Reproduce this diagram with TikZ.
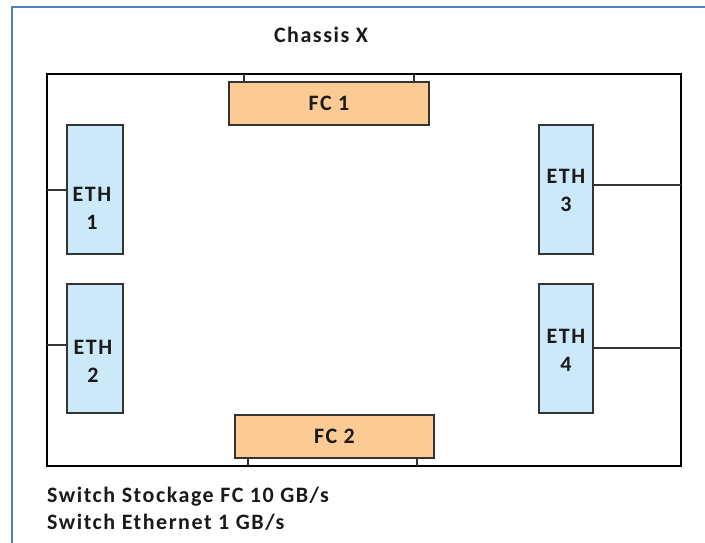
\documentclass[tikz,border=0pt]{standalone}
\usepackage{fontspec}
\setmainfont{Carlito}
\newfontfamily\diagfont[LetterSpace=7]{Carlito}
\definecolor{framebl}{HTML}{4F81BD}
\definecolor{fcfill}{HTML}{FCCB94}
\definecolor{ethfill}{HTML}{CCE9FA}
\definecolor{boxline}{HTML}{333333}
\definecolor{ink}{HTML}{1A1A1A}
\tikzset{
  every node/.style={text=ink},
  chassisbox/.style={draw=black, line width=2.4pt, rectangle, inner sep=0pt, outer sep=0pt},
  fcbox/.style={draw=boxline, fill=fcfill, line width=1.1pt, rectangle, inner sep=0pt, outer sep=0pt,
    minimum width=200pt, minimum height=43pt, font=\diagfont\bfseries\fontsize{22}{24}\selectfont},
  ethbox/.style={draw=boxline, fill=ethfill, line width=1.1pt, rectangle, inner sep=0pt, outer sep=0pt,
    minimum width=56pt, minimum height=129pt},
  ethlabel/.style={align=center, inner sep=0pt, font=\diagfont\bfseries\fontsize{22}{28}\selectfont},
  link/.style={draw=boxline, line width=1.1pt},
  caption/.style={inner sep=0pt, font=\diagfont\bfseries\fontsize{22}{25}\selectfont}
}
\begin{document}
\begin{tikzpicture}[x=1pt,y=-1pt]
\useasboundingbox (0,0) rectangle (705,543);
\fill[white] (0,0) rectangle (705,543);
% outer frame, open on the right and bottom
\draw[framebl, line width=1.6pt] (12,543) -- (12,7) -- (705,7);

% chassis outline
\node[chassisbox, minimum width=634pt, minimum height=392pt] (chassis) at (364,270) {};
\node[caption] (title) at (321,35) {Chassis X};

% FC switches
\node[fcbox] (fc1) at (329,103.5) {FC 1};
\node[fcbox, minimum width=199pt] (fc2) at (334.5,436.5) {FC 2};

% Ethernet switches
\node[ethbox] (eth1) at (95,189.5) {};
\node[ethbox] (eth2) at (95,348.5) {};
\node[ethbox, minimum width=54pt] (eth3) at (566,189.5) {};
\node[ethbox, minimum width=54pt] (eth4) at (566,348.5) {};
\node[ethlabel] (l1) at (92,208) {ETH\\1};
\node[ethlabel] (l2) at (93,361) {ETH\\2};
\node[ethlabel] (l3) at (566,190) {ETH\\3};
\node[ethlabel] (l4) at (566,350) {ETH\\4};

% attachment points
\coordinate (c1) at (0,190);
\coordinate (c2) at (0,345);
\coordinate (c3) at (0,185);
\coordinate (c4) at (0,348);
\coordinate (a1) at (244,0);
\coordinate (b1) at (414,0);
\coordinate (a2) at (248,0);
\coordinate (b2) at (417,0);

% Ethernet links to the chassis wall
\draw[link] (chassis.west |- c1) -- (eth1.west |- c1);
\draw[link] (chassis.west |- c2) -- (eth2.west |- c2);
\draw[link] (eth3.east |- c3) -- (chassis.east |- c3);
\draw[link] (eth4.east |- c4) -- (chassis.east |- c4);

% FC mounts
\draw[link] (chassis.north -| a1) -- (fc1.north -| a1);
\draw[link] (chassis.north -| b1) -- (fc1.north -| b1);
\draw[link] (fc2.south -| a2) -- (chassis.south -| a2);
\draw[link] (fc2.south -| b2) -- (chassis.south -| b2);

% legend
\node[caption, anchor=west] (leg1) at (47,497) {Switch Stockage FC 10 GB/s};
\node[caption, anchor=west] (leg2) at (47,522) {Switch Ethernet 1 GB/s};
\end{tikzpicture}
\end{document}
